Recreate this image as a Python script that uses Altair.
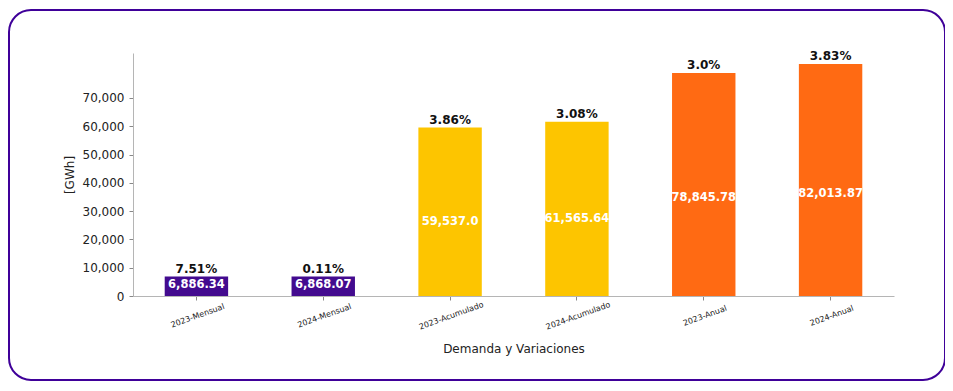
import altair as alt
import pandas as pd

categories = ["2023-Mensual", "2024-Mensual", "2023-Acumulado", "2024-Acumulado", "2023-Anual", "2024-Anual"]
values = [6886.34, 6868.07, 59537.0, 61565.64, 78845.78, 82013.87]
value_labels = ["6,886.34", "6,868.07", "59,537.0", "61,565.64", "78,845.78", "82,013.87"]
pct_labels = ["7.51%", "0.11%", "3.86%", "3.08%", "3.0%", "3.83%"]
colors = ["#430B8F", "#430B8F", "#FDC500", "#FDC500", "#FF6A13", "#FF6A13"]
y_ticks = [0, 10000, 20000, 30000, 40000, 50000, 60000, 70000]

df = pd.DataFrame({
    "cat": categories,
    "value": values,
    "vlabel": value_labels,
    "plabel": pct_labels,
    "color": colors,
})

FONT = "DejaVu Sans"
W, H = 761, 243
PL, PT = 125, 45

x = alt.X("cat:N", sort=categories, title="Demanda y Variaciones",
          scale=alt.Scale(paddingInner=0.5, paddingOuter=0.25),
          axis=alt.Axis(labelAngle=-20, labelAlign="center", labelBaseline="top",
                        labelFontSize=8, labelPadding=12, labelColor="#222",
                        titleFontSize=12, titleFontWeight="normal", titleColor="#222",
                        titlePadding=12, domainColor="#b5b5b5", tickColor="#888",
                        tickSize=4, labelFont=FONT, titleFont=FONT, zindex=1))
yscale = alt.Scale(domain=[0, 85900], nice=False)
y_axis = alt.Axis(values=y_ticks, format=",d", grid=False, labelFontSize=12,
                  labelColor="#222", titleFontSize=12, titleFontWeight="normal",
                  titleColor="#222", titlePadding=6, domainColor="#b5b5b5",
                  tickColor="#888", tickSize=4, labelPadding=5,
                  labelFont=FONT, titleFont=FONT, zindex=1)

frame = alt.Chart(df).mark_rect(
    fillOpacity=0, stroke="#3F0099", strokeWidth=2, cornerRadius=22
).encode(
    x=alt.value(-124), x2=alt.value(812), y=alt.value(-43), y2=alt.value(327)
).transform_filter(alt.datum.cat == "2023-Mensual")

bars = alt.Chart(df).mark_bar().encode(
    x=x,
    y=alt.Y("value:Q", scale=yscale, title="[GWh]", axis=y_axis),
    color=alt.Color("color:N", scale=None),
)

pct = alt.Chart(df).mark_text(
    font=FONT, fontSize=12, fontWeight="bold", color="#111", baseline="bottom", dy=-1
).encode(x=x, y=alt.Y("value:Q", scale=yscale, title="[GWh]", axis=y_axis), text="plabel:N")

vals = alt.Chart(df).transform_calculate(
    ly="datum.value < 10000 ? datum.value * 0.55 : datum.value * 0.44"
).mark_text(
    font=FONT, fontSize=11.5, fontWeight="bold", color="white", baseline="middle"
).encode(x=x, y=alt.Y("ly:Q", scale=yscale, title="[GWh]", axis=y_axis), text="vlabel:N")

chart = alt.layer(bars, pct, vals, frame).properties(
    width=W, height=H,
    autosize=alt.AutoSizeParams(type="none"),
    padding={"left": PL, "top": PT, "right": 937 - PL - W, "bottom": 375 - PT - H},
    background="white",
).configure_view(stroke=None)

chart.save("out.html", embed_options={"renderer": "svg", "actions": False})
